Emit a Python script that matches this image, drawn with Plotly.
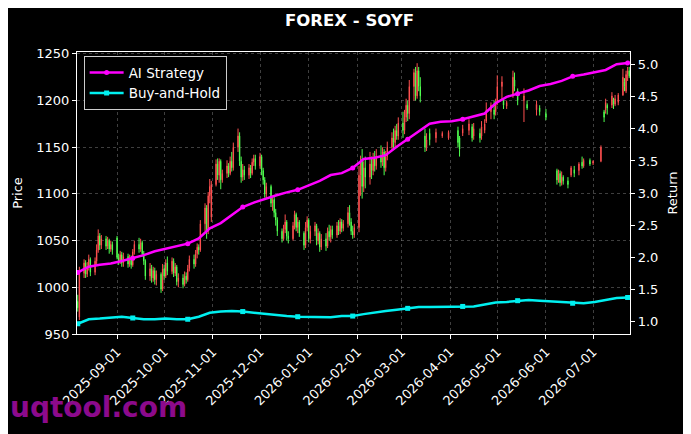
import pandas as pd
import plotly.graph_objects as go
from plotly.subplots import make_subplots

# business days shown on the chart (some days have no candle)
dates = pd.bdate_range('2025-08-07', '2026-07-24')

# daily candles, one row per week (Mon..Fri), None = no candle that day
opens = [
    985, 968,
    1015, 1026, 1014, 1022, 1030,
    1016, 1028, 1040, 1055, 1045,
    1052, 1044, 1050, 1041, 1046,
    1053, 1032, 1028, 1035, 1026,
    1033, 1025, 1031, 1024, 1038,
    1046, 1041, 1048, 1036, 1028,
    1012, 1020, 1010, 1018, 1008,
    1014, 998, 1020, 1012, 1026,
    1017, 1028, 1015, 1022, 1006,
    1010, 1003, 1012, 1008, 1020,
    1030, 1025, 1036, 1043, 1040,
    1068, 1085, 1060, 1098, 1075,
    1110, 1132, 1120, 1135, 1115,
    1122, 1130, 1122, 1135, 1128,
    1150, 1162, 1135, 1118, 1126,
    1120, 1128, 1122, 1134, 1138,
    1130, 1140, 1125, 1115, 1100,
    1108, 1090, 1094, 1080, 1072,
    1060, 1052, 1062, 1070, 1055,
    1052, 1066, 1078, 1064, 1070,
    1058, 1045, 1064, 1072, 1052,
    1060, 1066, 1050, 1058, 1043,
    1052, 1044, 1060, 1054, 1062,
    1056, 1066, 1060, 1070, 1063,
    1068, 1080, 1070, 1060, 1056,
    1064, 1120, 1135, 1108, 1128,
    1118, 1132, 1125, 1138, 1130,
    1140, 1134, 1145, 1128, 1140,
    1150, 1160, 1155, 1168, 1162,
    1176, 1168, 1182, 1195, 1186,
    1215, 1230, 1205, 1232, 1215,
    1162, 1150, None, 1165, None,
    1160, None, None, None, 1162,
    None, 1160, None, None, None,
    1168, 1160, None, 1165, None,
    1168, None, 1172, 1162, None,
    1165, 1162, None, 1168, 1178,
    1188, None, 1190, 1188, 1198,
    1215, 1200, None, 1194, None,
    1205, 1222, None, 1210, None,
    1200, None, 1196, None, None,
    None, 1190, None, 1192, None,
    1186, None, None, None, None,
    1125, 1115, 1122, 1112, 1118,
    1114, None, 1120, None, 1126,
    1125, None, 1134, 1130, None,
    1136, None, 1133, None, None,
    1135, None, 1188, 1190, 1195,
    1195, 1200, 1196, None, 1198,
    1206, 1220, 1210, 1228, 1232,
]
highs = [
    992, 1022,
    1030, 1029, 1027, 1035, 1032,
    1032, 1046, 1062, 1058, 1056,
    1055, 1054, 1052, 1050, 1049,
    1055, 1036, 1039, 1038, 1037,
    1036, 1035, 1034, 1041, 1050,
    1053, 1052, 1050, 1039, 1030,
    1026, 1024, 1022, 1021, 1018,
    1016, 1025, 1024, 1030, 1033,
    1032, 1031, 1026, 1024, 1015,
    1014, 1017, 1016, 1024, 1034,
    1035, 1040, 1047, 1046, 1072,
    1090, 1088, 1102, 1116, 1114,
    1137, 1138, 1138, 1137, 1126,
    1136, 1133, 1140, 1145, 1155,
    1170, 1166, 1140, 1132, 1130,
    1132, 1131, 1138, 1142, 1142,
    1144, 1142, 1128, 1118, 1112,
    1110, 1098, 1097, 1084, 1075,
    1063, 1067, 1078, 1072, 1060,
    1070, 1082, 1080, 1075, 1072,
    1060, 1070, 1076, 1074, 1066,
    1070, 1068, 1063, 1060, 1057,
    1058, 1064, 1067, 1066, 1066,
    1070, 1072, 1074, 1073, 1072,
    1086, 1088, 1074, 1066, 1068,
    1130, 1141, 1148, 1135, 1140,
    1145, 1140, 1144, 1146, 1148,
    1152, 1150, 1148, 1146, 1156,
    1166, 1170, 1173, 1175, 1182,
    1188, 1190, 1202, 1200, 1222,
    1234, 1236, 1240, 1236, 1225,
    1170, 1165, None, 1170, None,
    1170, None, None, None, 1167,
    None, 1168, None, None, None,
    1172, 1162, None, 1174, None,
    1180, None, 1175, 1176, None,
    1170, 1178, None, 1180, 1198,
    1198, None, 1200, 1202, 1227,
    1226, 1202, None, 1200, None,
    1232, 1230, None, 1213, None,
    1213, None, 1200, None, None,
    None, 1200, None, 1195, None,
    1191, None, None, None, None,
    1127, 1126, 1125, 1124, 1120,
    1118, None, 1130, None, 1130,
    1134, None, 1140, 1138, None,
    1138, None, 1136, None, None,
    1152, None, 1190, 1202, 1197,
    1209, 1203, 1206, None, 1208,
    1234, 1224, 1232, 1236, 1236,
]
lows = [
    974, 965,
    1010, 1010, 1011, 1018, 1012,
    1013, 1025, 1037, 1040, 1041,
    1040, 1041, 1036, 1038, 1035,
    1030, 1024, 1025, 1022, 1022,
    1021, 1022, 1020, 1022, 1035,
    1037, 1038, 1033, 1024, 1008,
    1007, 1005, 1006, 1003, 1002,
    994, 996, 1008, 1010, 1013,
    1014, 1011, 1012, 1002, 1000,
    999, 1001, 1004, 1006, 1017,
    1020, 1022, 1031, 1035, 1038,
    1060, 1052, 1057, 1090, 1070,
    1108, 1115, 1112, 1105, 1112,
    1117, 1118, 1120, 1124, 1125,
    1145, 1130, 1112, 1114, 1115,
    1116, 1117, 1120, 1130, 1126,
    1127, 1120, 1110, 1096, 1095,
    1086, 1082, 1075, 1066, 1055,
    1048, 1050, 1058, 1050, 1047,
    1050, 1062, 1060, 1058, 1054,
    1040, 1042, 1060, 1048, 1047,
    1055, 1045, 1046, 1038, 1040,
    1039, 1042, 1050, 1048, 1052,
    1053, 1056, 1057, 1059, 1060,
    1064, 1066, 1056, 1052, 1053,
    1059, 1098, 1095, 1102, 1106,
    1110, 1116, 1120, 1124, 1126,
    1128, 1130, 1120, 1124, 1136,
    1146, 1148, 1150, 1158, 1158,
    1160, 1164, 1177, 1178, 1180,
    1200, 1200, 1202, 1210, 1198,
    1145, 1146, None, 1152, None,
    1155, None, None, None, 1160,
    None, 1158, None, None, None,
    1150, 1140, None, 1162, None,
    1163, None, 1156, 1158, None,
    1155, 1158, None, 1165, 1176,
    1180, None, 1180, 1184, 1195,
    1200, 1191, None, 1191, None,
    1203, 1210, None, 1195, None,
    1177, None, 1190, None, None,
    None, 1184, None, 1184, None,
    1179, None, None, None, None,
    1110, 1112, 1108, 1109, 1110,
    1106, None, 1118, None, 1118,
    1120, None, 1127, 1128, None,
    1130, None, 1131, None, None,
    1134, None, 1177, 1186, 1185,
    1192, 1191, 1194, None, 1195,
    1205, 1210, 1208, 1221, 1224,
]
closes = [
    978, 1018,
    1026, 1014, 1022, 1030, 1016,
    1028, 1040, 1055, 1045, 1052,
    1044, 1050, 1041, 1046, 1040,
    1032, 1028, 1035, 1026, 1033,
    1025, 1031, 1024, 1038, 1046,
    1041, 1048, 1036, 1028, 1012,
    1020, 1010, 1018, 1008, 1014,
    998, 1020, 1012, 1026, 1017,
    1028, 1015, 1022, 1006, 1010,
    1003, 1012, 1008, 1020, 1030,
    1025, 1036, 1043, 1040, 1068,
    1085, 1060, 1098, 1108, 1110,
    1132, 1120, 1135, 1115, 1122,
    1130, 1122, 1135, 1128, 1150,
    1162, 1135, 1118, 1126, 1120,
    1128, 1122, 1134, 1138, 1130,
    1140, 1125, 1115, 1100, 1108,
    1090, 1094, 1080, 1072, 1060,
    1052, 1062, 1070, 1055, 1052,
    1066, 1078, 1064, 1070, 1058,
    1045, 1064, 1072, 1052, 1060,
    1066, 1050, 1058, 1043, 1052,
    1044, 1060, 1054, 1062, 1056,
    1066, 1060, 1070, 1063, 1068,
    1080, 1070, 1060, 1056, 1064,
    1120, 1135, 1108, 1128, 1118,
    1132, 1125, 1138, 1130, 1140,
    1134, 1145, 1128, 1140, 1150,
    1160, 1155, 1168, 1162, 1176,
    1168, 1182, 1195, 1186, 1215,
    1230, 1205, 1232, 1215, 1205,
    1150, 1158, None, 1158, None,
    1166, None, None, None, 1165,
    None, 1166, None, None, None,
    1155, 1148, None, 1170, None,
    1175, None, 1160, 1170, None,
    1160, 1172, None, 1175, 1190,
    1195, None, 1185, 1198, 1215,
    1220, 1195, None, 1198, None,
    1225, 1215, None, 1200, None,
    1205, None, 1192, None, None,
    None, 1196, None, 1188, None,
    1182, None, None, None, None,
    1115, 1122, 1112, 1118, 1114,
    1110, None, 1128, None, 1122,
    1132, None, 1130, 1136, None,
    1132, None, 1135, None, None,
    1150, None, 1182, 1198, 1192,
    1205, 1196, 1202, None, 1206,
    1225, 1215, 1228, 1232, 1226,
]

# weekly equity curves (right axis)
curve_dates = pd.date_range('2025-08-07', '2026-07-23', freq='7D')
ai_strategy = [
    1.76, 1.85, 1.88, 1.90, 1.94, 1.98, 2.03, 2.09, 2.13, 2.17,
    2.21, 2.29, 2.45, 2.53, 2.66, 2.78, 2.85, 2.91, 2.96, 3.01,
    3.05, 3.12, 3.19, 3.28, 3.31, 3.39, 3.53, 3.55, 3.59, 3.72,
    3.84, 3.97, 4.08, 4.11, 4.12, 4.15, 4.19, 4.24, 4.40, 4.50,
    4.55, 4.60, 4.67, 4.70, 4.75, 4.82, 4.85, 4.88, 4.92, 5.01,
    5.03,
]
buy_hold = [
    0.96, 1.03, 1.04, 1.06, 1.07, 1.05, 1.03, 1.03, 1.04, 1.03,
    1.03, 1.07, 1.13, 1.15, 1.16, 1.15, 1.13, 1.11, 1.09, 1.08,
    1.07, 1.07, 1.07, 1.06, 1.08, 1.08, 1.11, 1.14, 1.16, 1.18,
    1.20, 1.22, 1.22, 1.22, 1.22, 1.23, 1.23, 1.26, 1.29, 1.30,
    1.32, 1.33, 1.32, 1.31, 1.30, 1.28, 1.28, 1.30, 1.33, 1.36,
    1.37,
]

month_ticks = ['2025-09-01', '2025-10-01', '2025-11-01', '2025-12-01',
               '2026-01-01', '2026-02-01', '2026-03-01', '2026-04-01',
               '2026-05-01', '2026-06-01', '2026-07-01']

FONT = 'DejaVu Sans'
GRID = 'rgba(140,140,140,0.45)'
fig = make_subplots(specs=[[{'secondary_y': True}]])

fig.add_trace(go.Candlestick(
    x=dates, open=opens, high=highs, low=lows, close=closes,
    increasing=dict(line=dict(color='#ff5050', width=1), fillcolor='#ff5050'),
    decreasing=dict(line=dict(color='#50ff50', width=1), fillcolor='#50ff50'),
    whiskerwidth=0, showlegend=False, hoverinfo='skip'), secondary_y=False)

series = [('AI Strategy', ai_strategy, '#ff00ff', 'circle'),
          ('Buy-and-Hold', buy_hold, '#00f0f0', 'square')]
for name, vals, color, symbol in series:
    fig.add_trace(go.Scatter(x=curve_dates, y=vals, mode='lines',
                             line=dict(color=color, width=2.5),
                             showlegend=False), secondary_y=True)
    # markers every 5th point, like matplotlib markevery
    fig.add_trace(go.Scatter(x=curve_dates[::5], y=vals[::5], mode='markers',
                             marker=dict(color=color, size=5, symbol=symbol),
                             showlegend=False), secondary_y=True)
    # legend entry
    fig.add_trace(go.Scatter(x=[None], y=[None], mode='lines+markers', name=name,
                             line=dict(color=color, width=2.5),
                             marker=dict(color=color, size=5, symbol=symbol)),
                  secondary_y=True)

axis_common = dict(showline=True, linecolor='white', linewidth=1.2, automargin=False,
                   ticks='outside', tickcolor='white', ticklen=4,
                   tickfont=dict(color='white', size=13, family=FONT), zeroline=False)
label_font = dict(color='white', size=13, family=FONT)

fig.update_xaxes(type='date', range=['2025-08-06 12:00', '2026-07-24 12:00'],
                 domain=[0, 1],
                 tickvals=month_ticks, ticktext=month_ticks, tickangle=-45,
                 showgrid=True, gridcolor=GRID, griddash='3px,3px',
                 gridwidth=0.6, rangeslider=dict(visible=False), mirror=True,
                 **axis_common)
fig.update_yaxes(range=[950, 1252], tickvals=[950, 1000, 1050, 1100, 1150, 1200, 1250],
                 showgrid=True, gridcolor=GRID, griddash='3px,3px', gridwidth=0.6,
                 title=dict(text='Price', font=label_font, standoff=10),
                 secondary_y=False, **axis_common)
fig.update_yaxes(range=[0.8, 5.2], tickvals=[1.0, 1.5, 2.0, 2.5, 3.0, 3.5, 4.0, 4.5, 5.0],
                 tickformat='.1f', showgrid=False,
                 title=dict(text='Return', font=label_font, standoff=10),
                 secondary_y=True, **axis_common)

# page body adds an 8px offset, so the figure is 8px smaller than the window
fig.update_layout(
    width=683, height=426,
    margin=dict(l=69, r=61, t=44, b=100, autoexpand=False),
    paper_bgcolor='black', plot_bgcolor='black',
    boxgap=0.6,
    font=dict(family=FONT, color='white', size=13),
    title=dict(text='<b>FOREX - SOYF</b>', x=0.5, xanchor='center',
               y=0.972, yanchor='middle', font=dict(size=16.5, color='white', family=FONT)),
    legend=dict(x=0.012, y=0.985, xanchor='left', yanchor='top',
                bgcolor='black', bordercolor='#cccccc', borderwidth=1,
                font=dict(color='white', size=13.5, family=FONT),
                tracegroupgap=0, itemwidth=34),
    annotations=[dict(text='<b>uqtool.com</b>', xref='paper', yref='paper',
                      x=-0.124, y=-0.262, xanchor='left', yanchor='middle', showarrow=False,
                      font=dict(size=28, color='rgb(140,10,140)', family=FONT))],
)

fig.write_html('out.html')
